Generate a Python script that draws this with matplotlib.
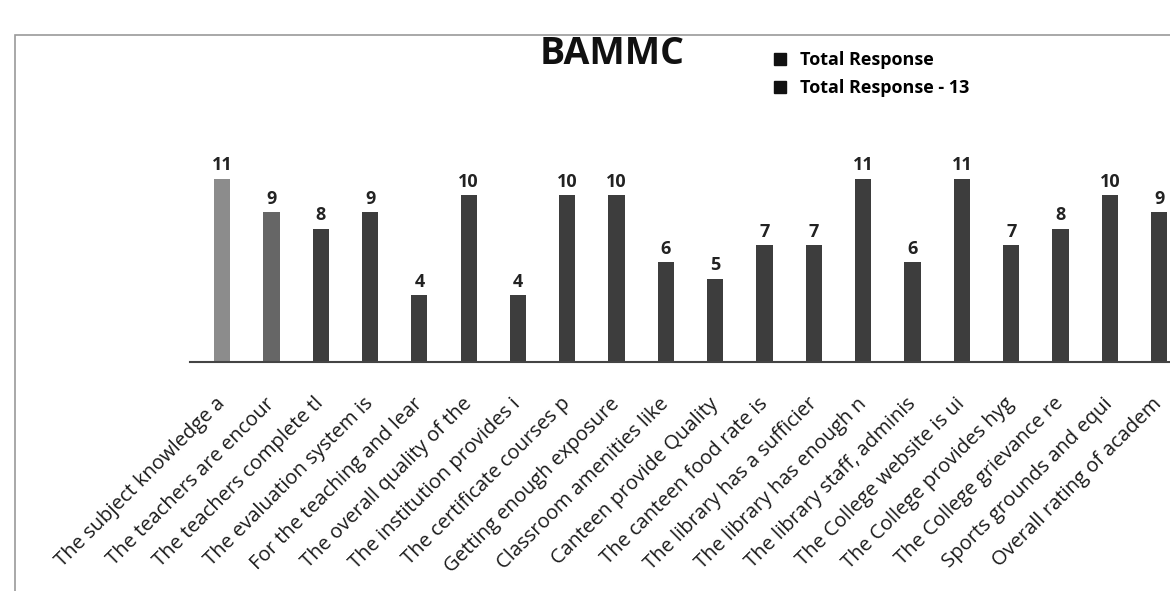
import numpy as np
import matplotlib
matplotlib.use('Agg')
import matplotlib.pyplot as plt
from matplotlib.patches import Rectangle
from matplotlib.lines import Line2D

plt.rcParams['font.family'] = ['Open Sans', 'DejaVu Sans']

# data
categories = [
    'The subject knowledge a', 'The teachers are encour', 'The teachers complete tl',
    'The evaluation system is', 'For the teaching and lear', 'The overall quality of the',
    'The institution provides i', 'The certificate courses p', 'Getting enough exposure',
    'Classroom amenities like', 'Canteen provide Quality', 'The canteen food rate is',
    'The library has a sufficier', 'The library has enough n', 'The library staff, adminis',
    'The College website is ui', 'The College provides hyg', 'The College grievance re',
    'Sports grounds and equi', 'Overall rating of academ',
]
total_response = [11, 9, 8, 9, 4, 10, 4, 10, 10, 6, 5, 7, 7, 11, 6, 11, 7, 8, 10, 9]
legend_labels = ['Total Response', 'Total Response - 13']

fig = plt.figure(figsize=(11.7, 5.91), dpi=100)

# chart border (scanned page)
fig.add_artist(Rectangle((15 / 1170, -0.1), 1.2, 1 - 35 / 591 + 0.1,
                         transform=fig.transFigure, fill=False,
                         edgecolor='#9a9a9a', linewidth=1.2))

ax = fig.add_axes([190 / 1170, 1 - 362 / 591, 1 - 190 / 1170, 362 / 591 - 0.17])
x = np.arange(len(categories))
colors = ['#8c8c8c', '#666666'] + ['#3d3d3d'] * (len(categories) - 2)
bars = ax.bar(x, total_response, width=0.33, color=colors)

for xi, v in zip(x, total_response):
    ax.text(xi, v + 0.25, str(v), ha='center', va='bottom',
            fontsize=13, fontweight='bold', color='#222222')

ax.set_xlim(-0.65, 19.22)
ax.set_ylim(0, (362 - 100) / 16.7)
ax.set_yticks([])
ax.set_xticks(x)
ax.set_xticklabels(categories, rotation=45, ha='right', va='center',
                   rotation_mode='anchor', fontsize=14.5, color='#1a1a1a')
ax.tick_params(axis='x', length=0, pad=28)
for s in ['top', 'right', 'left']:
    ax.spines[s].set_visible(False)
ax.spines['bottom'].set_color('#444444')
ax.spines['bottom'].set_linewidth(1.5)

fig.text(612 / 1170, 1 - 54 / 591, 'BAMMC', ha='center', va='center',
         fontsize=27, fontweight='bold', color='#111111')

handles = [Line2D([], [], marker='s', linestyle='none', color='#111111', markersize=9)
           for _ in legend_labels]
fig.legend(handles, legend_labels, loc='upper left',
           bbox_to_anchor=(755 / 1170, 1 - 44 / 591), frameon=False,
           prop={'size': 13, 'weight': 'bold'}, handletextpad=0.1,
           labelspacing=0.55, borderaxespad=0)

fig.savefig('out.png', dpi=100, facecolor='white')
